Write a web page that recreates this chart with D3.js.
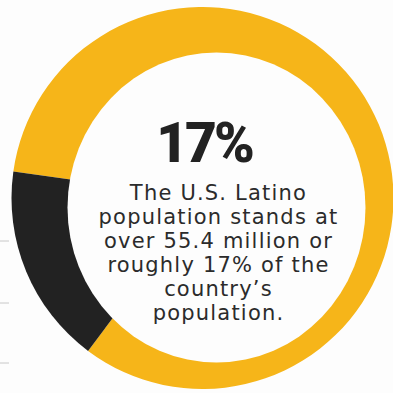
<!DOCTYPE html>
<html>
<head>
<meta charset="utf-8">
<script src="https://cdn.jsdelivr.net/npm/d3@7"></script>
<style>
  html, body { margin: 0; padding: 0; background: #fff; }
  svg { display: block; }
</style>
</head>
<body>
<div id="chart"></div>
<script>
// share of the U.S. population
const labels = ["Rest of population", "Latino"];
const shares = [83, 17];
const colors = ["#f6b519", "#222222"];

const headline = "17%";
const caption = [
  "The U.S. Latino",
  "population stands at",
  "over 55.4 million or",
  "roughly 17% of the",
  "country\u2019s",
  "population."
];

const width = 393, height = 393;

const svg = d3.select("#chart")
  .append("svg")
  .attr("width", width)
  .attr("height", height);

svg.append("rect")
  .attr("width", width)
  .attr("height", height)
  .attr("fill", "#fdfdfd");

// faint scan marks at the left edge
svg.append("g")
  .selectAll("line")
  .data([241, 303, 363])
  .join("line")
  .attr("x1", 0).attr("x2", 9)
  .attr("y1", d => d).attr("y2", d => d)
  .attr("stroke", "#c8c8c8")
  .attr("stroke-width", 1);

const pie = d3.pie()
  .sort(null)
  .value(d => d)
  .startAngle(278 * Math.PI / 180)
  .endAngle(278 * Math.PI / 180 + 2 * Math.PI);

const arc = d3.arc()
  .innerRadius(0)
  .outerRadius(191);

const ring = svg.append("g")
  .attr("transform", "translate(202.5,198)");

ring.selectAll("path")
  .data(pie(shares))
  .join("path")
  .attr("d", arc)
  .attr("fill", (d, i) => colors[i]);

// the hole sits a little off centre in the original
svg.append("ellipse")
  .attr("cx", 216.5)
  .attr("cy", 207.5)
  .attr("rx", 149)
  .attr("ry", 155)
  .attr("fill", "#fdfdfd");

svg.append("text")
  .attr("x", 204)
  .attr("y", 162)
  .attr("text-anchor", "middle")
  .style("font-family", "Roboto")
  .style("font-weight", "900")
  .style("font-size", "55px")
  .style("letter-spacing", "-3px")
  .style("fill", "#222")
  .text(headline);

svg.append("g")
  .selectAll("text")
  .data(caption)
  .join("text")
  .attr("x", 218.5)
  .attr("y", (d, i) => 200 + i * 24)
  .attr("text-anchor", "middle")
  .style("font-family", "'DejaVu Sans'")
  .style("font-size", "21px")
  .style("letter-spacing", "1.2px")
  .style("fill", "#2b2b2b")
  .text(d => d);
</script>
</body>
</html>
